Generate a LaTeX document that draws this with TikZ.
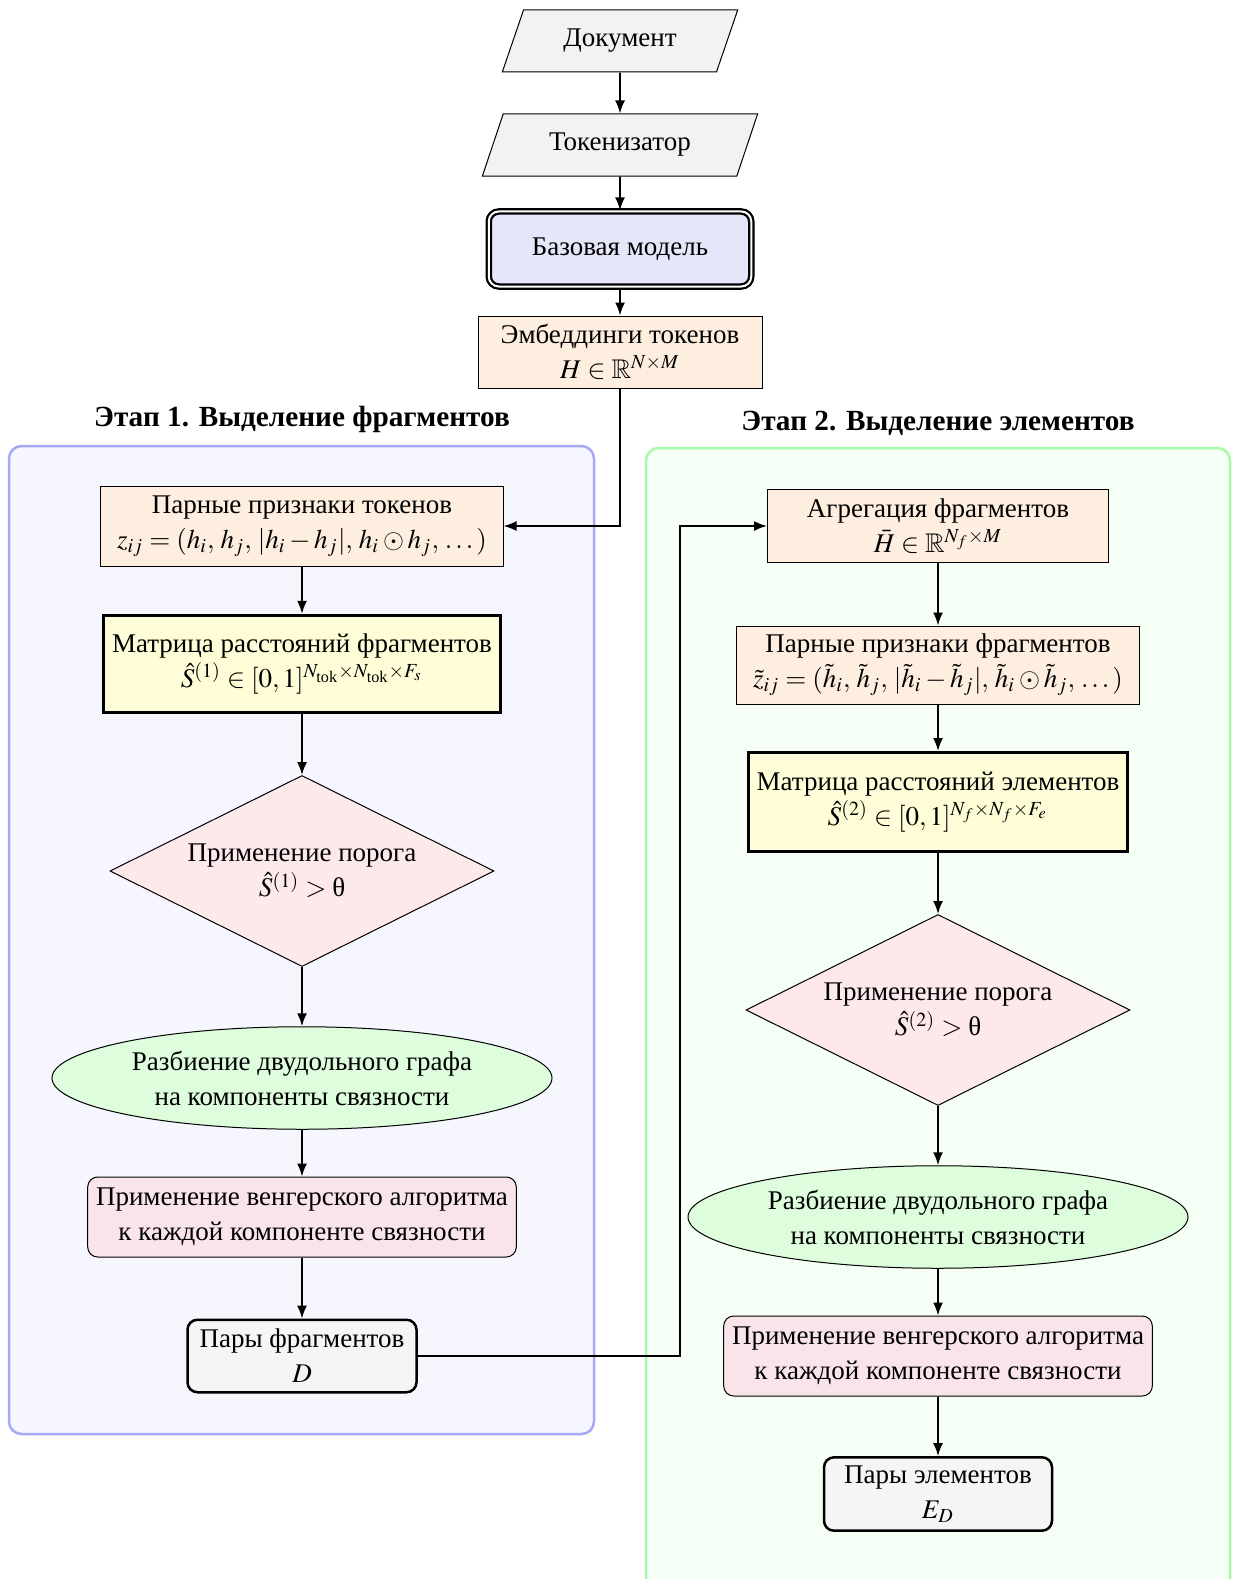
\documentclass[tikz,border=0pt]{standalone}
\usepackage{amsmath,amssymb}
\usepackage{mathptmx}
\usepackage{fontspec}
\setmainfont{Liberation Serif}
\usetikzlibrary{shapes.geometric,arrows.meta}

\definecolor{iogray}{HTML}{F2F2F2}
\definecolor{basefill}{HTML}{E6E6FA}
\definecolor{peach}{HTML}{FDEEDF}
\definecolor{lightyellow}{HTML}{FFFCD8}
\definecolor{diapink}{HTML}{FDE8EC}
\definecolor{ellgreen}{HTML}{DDFDDD}
\definecolor{hungpink}{HTML}{F9E4EA}
\definecolor{resgray}{HTML}{F5F5F5}
\definecolor{stageblue}{HTML}{A8A8F8}
\definecolor{stagebluebg}{HTML}{F6F6FF}
\definecolor{stagegreen}{HTML}{A8F8A8}
\definecolor{stagegreenbg}{HTML}{F5FFF5}

\begin{document}
\begin{tikzpicture}[x=0.4pt,y=-0.4pt,
  font=\fontsize{10.8}{14}\selectfont,
  iobox/.style={trapezium, trapezium stretches=true, trapezium left angle=68,
    trapezium right angle=112, draw, line width=0.4pt, fill=iogray,
    minimum height=24.8pt, inner sep=2pt},
  basebox/.style={draw, rounded corners=4pt, fill=basefill, line width=0.9pt,
    double=white, double distance=0.8pt, minimum width=105pt, minimum height=30pt},
  databox/.style={draw, line width=0.4pt, fill=peach, align=center, inner sep=2pt},
  distbox/.style={draw, line width=1.2pt, fill=lightyellow, align=center, inner sep=2pt},
  thresh/.style={diamond, aspect=2, draw, line width=0.4pt, fill=diapink, align=center,
    minimum width=153.6pt, minimum height=76.4pt, inner sep=0pt},
  split/.style={ellipse, draw, line width=0.4pt, fill=ellgreen, align=center,
    minimum width=200pt, minimum height=41pt, inner sep=0pt},
  hungbox/.style={draw, rounded corners=4pt, line width=0.4pt, fill=hungpink,
    align=center, minimum width=169.6pt, minimum height=32pt},
  resbox/.style={draw, rounded corners=4pt, line width=1pt, fill=resgray,
    align=center, minimum height=29pt},
  stage/.style={rounded corners=5pt, line width=1pt},
  stagetitle/.style={font=\fontsize{11.7}{14}\selectfont\bfseries},
  flow/.style={-{Latex[length=5.2pt,width=4pt]}, line width=0.7pt}
]
\useasboundingbox (0,0) rectangle (1241,1579);

% stage frames
\draw[stage, draw=stageblue, fill=stagebluebg] (9,446) rectangle (594,1434);
\draw[stage, draw=stagegreen, fill=stagegreenbg] (646,448) rectangle (1230,1600);
\node[stagetitle] (title1) at (302,419) {Этап 1. Выделение фрагментов};
\node[stagetitle] (title2) at (938,423) {Этап 2. Выделение элементов};

% input part
\node[iobox, minimum width=94.4pt] (doc) at (620,41) {Документ};
\node[iobox, minimum width=110.8pt] (tok) at (620,145) {Токенизатор};
\node[basebox] (base) at (620,249) {Базовая модель};
\node[databox, minimum width=113.6pt, minimum height=28.8pt] (emb) at (620,352)
  {Эмбеддинги токенов\\ $H \in \mathbb{R}^{N \times M}$};

% stage 1
\node[databox, minimum width=160.8pt, minimum height=32pt] (pairtok) at (302,526)
  {Парные признаки токенов\\ $z_{ij} = (h_i,\, h_j,\, |h_i - h_j|,\, h_i \odot h_j,\, \dots)$};
\node[distbox, minimum width=158.4pt, minimum height=39pt] (distfrag) at (302,664)
  {Матрица расстояний фрагментов\\ $\hat{S}^{(1)} \in [0,1]^{N_{\text{tok}} \times N_{\text{tok}} \times F_s}$};
\node[thresh] (thr1) at (302,871)
  {Применение порога\\ $\hat{S}^{(1)} > \text{θ}$};
\node[split] (split1) at (302,1078)
  {Разбиение двудольного графа\\ на компоненты связности};
\node[hungbox] (hung1) at (302,1217)
  {Применение венгерского алгоритма\\ к каждой компоненте связности};
\node[resbox, minimum width=91.6pt] (fragpairs) at (302,1356)
  {Пары фрагментов\\ $D$};

% stage 2
\node[databox, minimum width=136.4pt, minimum height=29.2pt] (aggr) at (938,526)
  {Агрегация фрагментов\\ $\bar{H} \in \mathbb{R}^{N_f \times M}$};
\node[databox, minimum width=161.2pt, minimum height=31.2pt] (pairfrag) at (938,665)
  {Парные признаки фрагментов\\ $\tilde{z}_{ij} = (\tilde{h}_i,\, \tilde{h}_j,\, |\tilde{h}_i - \tilde{h}_j|,\, \tilde{h}_i \odot \tilde{h}_j,\, \dots)$};
\node[distbox, minimum width=151.6pt, minimum height=39.6pt] (distelem) at (938,802)
  {Матрица расстояний элементов\\ $\hat{S}^{(2)} \in [0,1]^{N_f \times N_f \times F_e}$};
\node[thresh] (thr2) at (938,1010)
  {Применение порога\\ $\hat{S}^{(2)} > \text{θ}$};
\node[split] (split2) at (938,1217)
  {Разбиение двудольного графа\\ на компоненты связности};
\node[hungbox] (hung2) at (938,1356)
  {Применение венгерского алгоритма\\ к каждой компоненте связности};
\node[resbox, minimum width=91.2pt] (elempairs) at (938,1494)
  {Пары элементов\\ $E_D$};

% connectors
\draw[flow] (doc) -- (tok);
\draw[flow] (tok) -- (base);
\draw[flow] (base) -- (emb);
\draw[flow] (emb.south) |- (pairtok.east);
\draw[flow] (pairtok) -- (distfrag);
\draw[flow] (distfrag) -- (thr1);
\draw[flow] (thr1) -- (split1);
\draw[flow] (split1) -- (hung1);
\draw[flow] (hung1) -- (fragpairs);
\coordinate (bend) at (680,1356);
\draw[flow] (fragpairs.east) -- (bend) |- (aggr.west);
\draw[flow] (aggr) -- (pairfrag);
\draw[flow] (pairfrag) -- (distelem);
\draw[flow] (distelem) -- (thr2);
\draw[flow] (thr2) -- (split2);
\draw[flow] (split2) -- (hung2);
\draw[flow] (hung2) -- (elempairs);

\end{tikzpicture}
\end{document}
